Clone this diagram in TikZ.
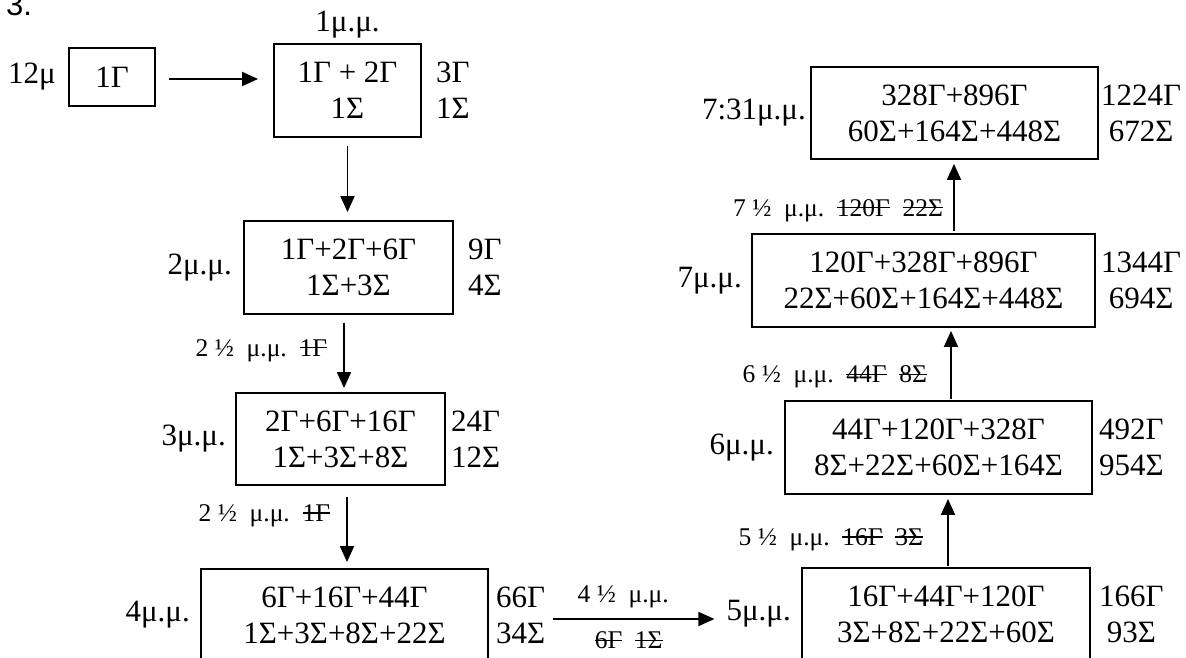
\documentclass[tikz,border=0pt]{standalone}
\usepackage{fontspec}
\setmainfont{Liberation Serif}
\setsansfont{Liberation Sans}
\usetikzlibrary{positioning,arrows.meta}
\newcommand{\strk}[1]{\setbox0=\hbox{#1}\rlap{\rule[0.3em]{\wd0}{1.3pt}}\box0}

\begin{document}
\begin{tikzpicture}[x=1pt,y=-1pt,
  box/.style={draw, line width=1.9pt, inner sep=0pt, align=center, font=\fontsize{31}{36}\selectfont},
  side/.style={inner sep=0pt, align=center, font=\fontsize{31}{36}\selectfont},
  lbl/.style={inner sep=0pt, font=\fontsize{25.5}{30}\selectfont},
  arr/.style={line width=1.9pt, -{Triangle[length=16pt,width=14pt]}}]
\clip (0,0) rectangle (1186,658);
\node[anchor=base west, inner sep=0pt, font=\sffamily\fontsize{31}{36}\selectfont] (num) at (6,16) {3.};
% boxes
\node[box, minimum width=86pt, minimum height=58pt] (b0) at (112,77) {1Γ};
\node[box, minimum width=147pt, minimum height=93pt] (b1) at (347.5,90.5) {1Γ + 2Γ\\1Σ};
\node[box, minimum width=209pt, minimum height=93pt] (b2) at (348.5,267.5) {1Γ+2Γ+6Γ\\1Σ+3Σ};
\node[box, minimum width=209pt, minimum height=92pt] (b3) at (340.5,439) {2Γ+6Γ+16Γ\\1Σ+3Σ+8Σ};
\node[box, minimum width=287pt, minimum height=92pt] (b4) at (344.5,615) {6Γ+16Γ+44Γ\\1Σ+3Σ+8Σ+22Σ};
\node[box, minimum width=288pt, minimum height=92pt] (b5) at (946,614) {16Γ+44Γ+120Γ\\3Σ+8Σ+22Σ+60Σ};
\node[box, minimum width=307pt, minimum height=93pt] (b6) at (938.5,447.5) {44Γ+120Γ+328Γ\\8Σ+22Σ+60Σ+164Σ};
\node[box, minimum width=343pt, minimum height=93pt] (b7) at (923.5,280.5) {120Γ+328Γ+896Γ\\22Σ+60Σ+164Σ+448Σ};
\node[box, minimum width=287pt, minimum height=92pt] (b8) at (954.5,113) {328Γ+896Γ\\60Σ+164Σ+448Σ};
% totals
\node[side, right=14pt of b1] (r1) {3Γ\\1Σ};
\node[side, right=14pt of b2] (r2) {9Γ\\4Σ};
\node[side, right=5pt of b3] (r3) {24Γ\\12Σ};
\node[side, right=7pt of b4] (r4) {66Γ\\34Σ};
\node[side, right=8pt of b5] (r5) {166Γ\\93Σ};
\node[side, right=6pt of b6] (r6) {492Γ\\954Σ};
\node[side, right=5pt of b7] (r7) {1344Γ\\694Σ};
\node[side, right=2pt of b8] (r8) {1224Γ\\672Σ};
% times
\node[side, left=12pt of b0] (l0) {12μ};
\node[side, above=5pt of b1] (l1) {1μ.μ.};
\node[side, left=11pt of b2] (l2) {2μ.μ.};
\node[side, left=9pt of b3] (l3) {3μ.μ.};
\node[side, left=10pt of b4] (l4) {4μ.μ.};
\node[side, left=10pt of b5] (l5) {5μ.μ.};
\node[side, left=10pt of b6] (l6) {6μ.μ.};
\node[side, left=9pt of b7] (l7) {7μ.μ.};
\node[side, left=4pt of b8] (l8) {7:31μ.μ.};
% arrows
\draw[arr, shorten <=13pt, shorten >=15pt] ([yshift=-2pt]b0.east) -- ([yshift=-2pt]b0.east -| b1.west);
\draw[arr, shorten <=8pt, shorten >=8pt] (b1.south) -- (b1.south |- b2.north);
\draw[arr, shorten <=8pt, shorten >=4pt] ([xshift=-4.5pt]b2.south) -- ([xshift=-4.5pt]b2.south |- b3.north)
  node[lbl, left=16pt, pos=0.46] (t2) {2 ½\enspace μ.μ.\enspace \strk{1Γ}};
\draw[arr, shorten <=11pt, shorten >=6pt] ([xshift=6.5pt]b3.south) -- ([xshift=6.5pt]b3.south |- b4.north)
  node[lbl, left=16pt, pos=0.36] (t3) {2 ½\enspace μ.μ.\enspace \strk{1Γ}};
\draw[arr, shorten <=8pt, shorten >=12pt] ([yshift=-4pt]r4.east) -- ([yshift=-4pt]r4.east -| l5.west)
  node[lbl, above=10pt, pos=0.43] (t4a) {4 ½\enspace μ.μ.}
  node[lbl, below=12pt, pos=0.46] (t4b) {\strk{6Γ}\enspace\strk{1Σ}};
\draw[arr, shorten <=1pt, shorten >=4pt] ([xshift=2pt]b5.north) -- ([xshift=2pt]b5.north |- b6.south)
  node[lbl, left=24pt, pos=0.38] (t5) {5 ½\enspace μ.μ.\enspace \strk{16Γ}\enspace\strk{3Σ}};
\draw[arr, shorten <=1pt, shorten >=3pt] ([xshift=12.5pt]b6.north) -- ([xshift=12.5pt]b6.north |- b7.south)
  node[lbl, left=23pt, pos=0.32] (t6) {6 ½\enspace μ.μ.\enspace \strk{44Γ}\enspace\strk{8Σ}};
\draw[arr, shorten <=2pt, shorten >=4pt] ([xshift=30.5pt]b7.north) -- ([xshift=30.5pt]b7.north |- b8.south)
  node[lbl, left=10pt, pos=0.31] (t7) {7 ½\enspace μ.μ.\enspace \strk{120Γ}\enspace\strk{22Σ}};
\end{tikzpicture}
\end{document}
